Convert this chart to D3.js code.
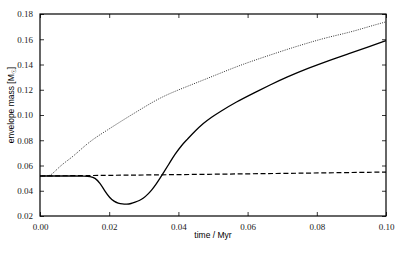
<!DOCTYPE html>
<html>
<head>
<meta charset="utf-8">
<script src="https://cdn.jsdelivr.net/npm/d3@7"></script>
<style>
  body { margin: 0; background: #fff; }
</style>
</head>
<body>
<div id="chart"></div>
<script>
const width = 407;
const height = 255;
const margin = { top: 14, right: 21, bottom: 39, left: 40 };

// values
const solidTime = [0, 0.005, 0.010, 0.0130, 0.0145, 0.0159, 0.0173, 0.0188, 0.0202, 0.0214, 0.0226, 0.0238, 0.0251, 0.0263, 0.0275, 0.0287, 0.0299, 0.0311, 0.0323, 0.0335, 0.0347, 0.0359, 0.0371, 0.0390, 0.0410, 0.0424, 0.0448, 0.0472, 0.0496, 0.0520, 0.0568, 0.0616, 0.0665, 0.0713, 0.0775, 0.0835, 0.0896, 0.0950, 0.1000];
const solidMass = [0.0517, 0.0517, 0.0517, 0.0516, 0.0513, 0.0503, 0.0462, 0.0395, 0.0342, 0.0316, 0.0301, 0.0295, 0.0293, 0.0298, 0.0309, 0.0322, 0.0340, 0.0370, 0.0406, 0.0450, 0.0499, 0.0552, 0.0604, 0.0690, 0.0762, 0.0802, 0.0872, 0.0934, 0.0983, 0.1026, 0.1105, 0.1172, 0.1238, 0.1300, 0.1370, 0.1432, 0.1489, 0.1540, 0.1589];

const dottedTime = [0, 0.0020, 0.0029, 0.0040, 0.0058, 0.0077, 0.0096, 0.0125, 0.0154, 0.0193, 0.0241, 0.0289, 0.0337, 0.0376, 0.0424, 0.0472, 0.0520, 0.0568, 0.0616, 0.0665, 0.0720, 0.0771, 0.0830, 0.0896, 0.0950, 0.1000];
const dottedMass = [0.0517, 0.0517, 0.0520, 0.0545, 0.0594, 0.0635, 0.0673, 0.0745, 0.0810, 0.0878, 0.0962, 0.1042, 0.1121, 0.1172, 0.1225, 0.1277, 0.1330, 0.1383, 0.1430, 0.1475, 0.1525, 0.1568, 0.1615, 0.1655, 0.1700, 0.1738];

const dashedTime = [0, 0.0320, 0.0694, 0.1000];
const dashedMass = [0.0517, 0.0525, 0.0537, 0.0548];

const xTicks = [0, 0.02, 0.04, 0.06, 0.08, 0.10];
const yTicks = [0.02, 0.04, 0.06, 0.08, 0.10, 0.12, 0.14, 0.16, 0.18];

const svg = d3.select('#chart')
  .append('svg')
  .attr('width', width)
  .attr('height', height);

const xScale = d3.scaleLinear()
  .domain([0, 0.1])
  .range([margin.left, width - margin.right]);

const yScale = d3.scaleLinear()
  .domain([0.02, 0.18])
  .range([height - margin.bottom, margin.top]);

const fmt = d3.format('.2f');

// axes with inward ticks, mirrored on top / right
svg.append('g')
  .attr('transform', 'translate(0,' + (height - margin.bottom) + ')')
  .call(d3.axisBottom(xScale).tickValues(xTicks).tickFormat(fmt).tickSizeInner(-4).tickSizeOuter(0).tickPadding(8));

svg.append('g')
  .attr('transform', 'translate(0,' + margin.top + ')')
  .call(d3.axisTop(xScale).tickValues(xTicks).tickFormat('').tickSizeInner(-4).tickSizeOuter(0));

svg.append('g')
  .attr('transform', 'translate(' + margin.left + ',0)')
  .call(d3.axisLeft(yScale).tickValues(yTicks).tickFormat(fmt).tickSizeInner(-4).tickSizeOuter(0).tickPadding(7));

svg.append('g')
  .attr('transform', 'translate(' + (width - margin.right) + ',0)')
  .call(d3.axisRight(yScale).tickValues(yTicks).tickFormat('').tickSizeInner(-4).tickSizeOuter(0));

svg.selectAll('.domain').remove();
svg.selectAll('.tick line').attr('stroke', '#000').attr('stroke-width', 0.8);
svg.selectAll('.tick text')
  .style('font-family', "'Liberation Serif', 'DejaVu Serif', serif")
  .style('font-size', '9px')
  .attr('fill', '#222');

svg.append('rect')
  .attr('x', margin.left)
  .attr('y', margin.top)
  .attr('width', width - margin.left - margin.right)
  .attr('height', height - margin.top - margin.bottom)
  .attr('fill', 'none')
  .attr('stroke', '#000')
  .attr('stroke-width', 1.2);

const line = d3.line()
  .x(d => xScale(d[0]))
  .y(d => yScale(d[1]))
  .curve(d3.curveBasis);

svg.append('path')
  .datum(dottedTime.map((t, i) => [t, dottedMass[i]]))
  .attr('d', line)
  .attr('fill', 'none')
  .attr('stroke', '#333')
  .attr('stroke-width', 1)
  .attr('stroke-dasharray', '1,1.3');

svg.append('path')
  .datum(dashedTime.map((t, i) => [t, dashedMass[i]]))
  .attr('d', line)
  .attr('fill', 'none')
  .attr('stroke', '#000')
  .attr('stroke-width', 1.2)
  .attr('stroke-dasharray', '5,2.6');

svg.append('path')
  .datum(solidTime.map((t, i) => [t, solidMass[i]]))
  .attr('d', line)
  .attr('fill', 'none')
  .attr('stroke', '#000')
  .attr('stroke-width', 1.3);

// axis labels
svg.append('text')
  .attr('x', (margin.left + width - margin.right) / 2)
  .attr('y', 238)
  .attr('text-anchor', 'middle')
  .style('font-family', "'Liberation Sans', Arial, sans-serif")
  .style('font-size', '8.5px')
  .text('time / Myr');

const yl = svg.append('text')
  .attr('transform', 'translate(14,105) rotate(-90)')
  .attr('text-anchor', 'middle')
  .style('font-family', "'Liberation Sans', Arial, sans-serif")
  .style('font-size', '8.5px');
yl.append('tspan').text('envelope mass [M');
yl.append('tspan').attr('font-size', '6px').attr('dy', 2).text('\u2609');
yl.append('tspan').attr('dy', -2).text(']');
</script>
</body>
</html>
